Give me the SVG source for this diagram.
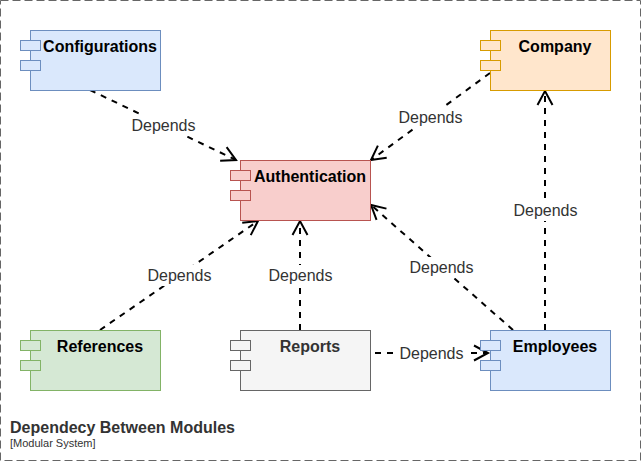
<svg xmlns="http://www.w3.org/2000/svg" width="642" height="462" viewBox="0 0 642 462">
<style>
text{font-family:"Liberation Sans",Arial,sans-serif}
.t{font-size:16px;font-weight:bold;fill:#000;text-anchor:middle}
.g{fill:#333}
.l{font-size:16px;fill:#333;text-anchor:middle}
.e{fill:none;stroke:#000;stroke-width:2;stroke-dasharray:6 6;marker-end:url(#a)}
.bg{fill:#fff}
.blue rect{fill:#dae8fc;stroke:#6c8ebf}
.yellow rect{fill:#ffe6cc;stroke:#d79b00}
.red rect{fill:#f8cecc;stroke:#b85450}
.green rect{fill:#d5e8d4;stroke:#82b366}
.gray rect{fill:#f5f5f5;stroke:#666}
</style>
<defs>
<marker id="a" markerUnits="userSpaceOnUse" markerWidth="20" markerHeight="20" refX="16" refY="10" orient="auto" overflow="visible">
<path d="M2 2.5L16 10L2 17.5" fill="none" stroke="#000" stroke-width="2"/>
</marker>
</defs>
<rect width="642" height="462" fill="#fff"/>
<rect id="frame" x="0.5" y="0.5" width="640" height="460" fill="none" stroke="#666" stroke-dasharray="8 4"/>
<g id="connectors">
<path class="e" d="M90 90L236 160"/>
<rect class="bg" x="132" y="115" width="64" height="21"/><text class="l" x="163.500" y="131">Depends</text>
<path class="e" d="M490 73L371 160"/>
<rect class="bg" x="399" y="106" width="64" height="21"/><text class="l" x="430.500" y="123">Depends</text>
<path class="e" d="M545 330L545 91"/>
<rect class="bg" x="514" y="200" width="64" height="21"/><text class="l" x="545.500" y="216">Depends</text>
<path class="e" d="M513 330L371 205"/>
<rect class="bg" x="410" y="257" width="64" height="21"/><text class="l" x="441.500" y="273">Depends</text>
<path class="e" d="M300 330L300 221"/>
<rect class="bg" x="269" y="265" width="64" height="21"/><text class="l" x="300.500" y="281">Depends</text>
<path class="e" d="M100 330L258 221"/>
<rect class="bg" x="148" y="265" width="64" height="21"/><text class="l" x="179.500" y="281">Depends</text>
<path class="e" d="M375 353L488 353"/>
<rect class="bg" x="398" y="343" width="68" height="21"/><text class="l" x="431.500" y="359">Depends</text>
</g>
<g id="configurations" class="blue"><rect x="30.5" y="30.5" width="130" height="60"/><rect x="20.5" y="40.5" width="20" height="10"/><rect x="20.5" y="60.5" width="20" height="10"/><text class="t" x="100" y="52">Configurations</text></g>
<g id="company" class="yellow"><rect x="490.5" y="30.5" width="120" height="60"/><rect x="480.5" y="40.5" width="20" height="10"/><rect x="480.5" y="60.5" width="20" height="10"/><text class="t" x="555" y="52">Company</text></g>
<g id="authentication" class="red"><rect x="240.5" y="160.5" width="130" height="60"/><rect x="230.5" y="170.5" width="20" height="10"/><rect x="230.5" y="190.5" width="20" height="10"/><text class="t" x="310" y="182">Authentication</text></g>
<g id="references" class="green"><rect x="30.5" y="330.5" width="130" height="60"/><rect x="20.5" y="340.5" width="20" height="10"/><rect x="20.5" y="360.5" width="20" height="10"/><text class="t" x="100" y="352">References</text></g>
<g id="reports" class="gray"><rect x="240.5" y="330.5" width="130" height="60"/><rect x="230.5" y="340.5" width="20" height="10"/><rect x="230.5" y="360.5" width="20" height="10"/><text class="t g" x="310" y="352">Reports</text></g>
<g id="employees" class="blue"><rect x="490.5" y="330.5" width="120" height="60"/><rect x="480.5" y="340.5" width="20" height="10"/><rect x="480.5" y="360.5" width="20" height="10"/><text class="t" x="555" y="352">Employees</text></g>
<g id="title"><text x="10" y="433" font-size="16" font-weight="bold" fill="#333">Dependecy Between Modules</text><text x="10" y="447" font-size="11" fill="#333">[Modular System]</text></g>
</svg>
